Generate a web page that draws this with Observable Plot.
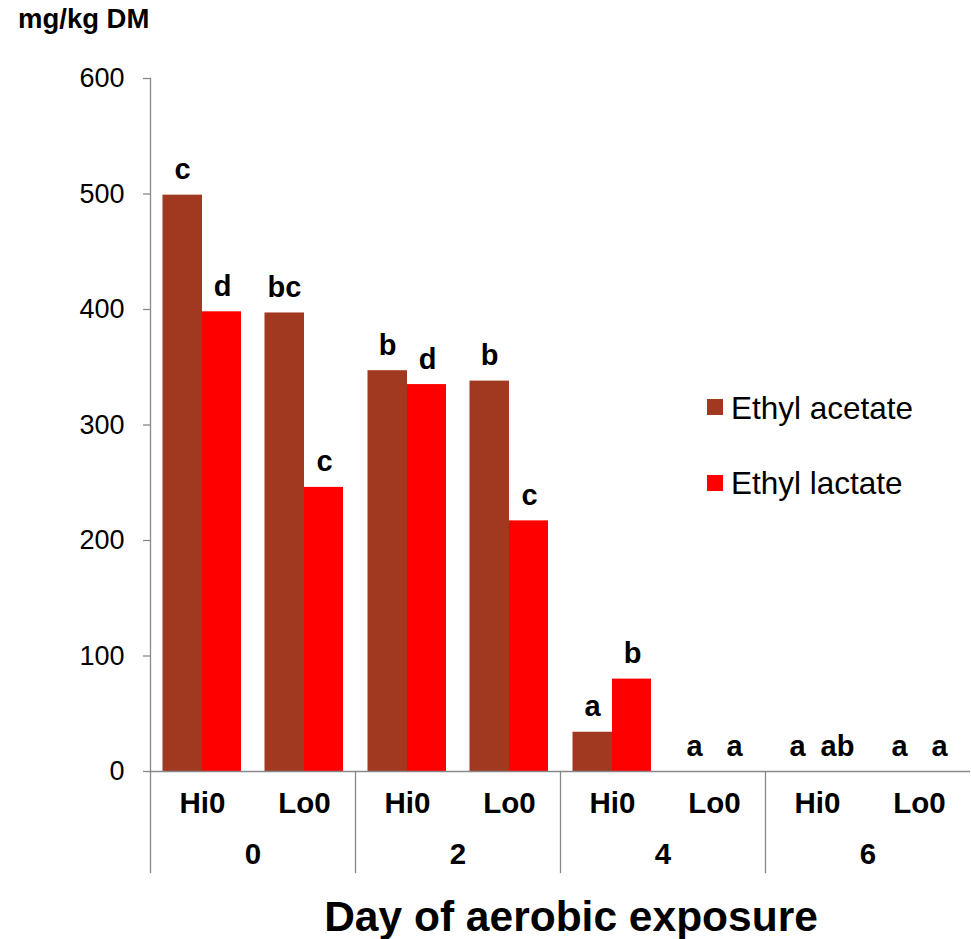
<!DOCTYPE html>
<html><head><meta charset="utf-8">
<script src="https://cdn.jsdelivr.net/npm/d3@7"></script>
<script src="https://cdn.jsdelivr.net/npm/@observablehq/plot@0.6"></script>
<style>
body{margin:0;background:#fff;font-family:"Liberation Sans",Arial,sans-serif;}
#wrap{position:relative;width:971px;height:939px;overflow:hidden;background:#fff}
.abs{position:absolute;white-space:nowrap;line-height:1;color:#000}
.sw{position:absolute;width:16px;height:16px}
</style></head><body><div id="wrap"></div>
<script>
// ---- data ----
const days = ["0", "2", "4", "6"];
const treatments = ["Hi0", "Lo0"];
const seriesNames = ["Ethyl acetate", "Ethyl lactate"];
const seriesColors = ["#A0391F", "#FF0000"];
// order: day0 Hi0, day0 Lo0, day2 Hi0, day2 Lo0, day4 Hi0, day4 Lo0, day6 Hi0, day6 Lo0
const acetate = [499, 397, 347, 338, 34, 0, 0, 0];
const lactate = [398, 246, 335, 217, 80, 0, 0, 0];
const acetateLetters = ["c", "bc", "b", "b", "a", "a", "a", "a"];
const lactateLetters = ["d", "c", "d", "c", "b", "a", "ab", "a"];
const yTicks = [0, 100, 200, 300, 400, 500, 600];
const yLabel = "mg/kg DM";
const xTitle = "Day of aerobic exposure";

// ---- table ----
const rows = [];
days.forEach((day, i) => treatments.forEach((treat, j) => {
  const k = i * 2 + j;
  rows.push({day, treat, series: seriesNames[0], value: acetate[k], letter: acetateLetters[k]});
  rows.push({day, treat, series: seriesNames[1], value: lactate[k], letter: lactateLetters[k]});
}));
const cells = days.flatMap(day => treatments.map(treat => ({day, treat})));
const ac = rows.filter(d => d.series === seriesNames[0]);
const la = rows.filter(d => d.series === seriesNames[1]);

const gray = "#898989";
const W = 971, H = 939, mt = 78, mb = 168, ml = 149, mr = 0;
const plotH = H - mt - mb;
const font = "'Liberation Sans', Arial, sans-serif";

const chart = Plot.plot({
  width: W, height: H,
  marginTop: mt, marginBottom: mb, marginLeft: ml, marginRight: mr,
  style: {fontFamily: font, fontSize: "27px", background: "white", color: "black", overflow: "visible"},
  fx: {domain: days, padding: 0, axis: null},
  x: {domain: treatments, padding: 0, axis: null},
  y: {domain: [0, 600], axis: null},
  color: {domain: seriesNames, range: seriesColors},
  marks: [
    Plot.barY(ac, {fx: "day", x: "treat", y: "value", fill: "series", insetLeft: 11.5, insetRight: 51}),
    Plot.barY(la, {fx: "day", x: "treat", y: "value", fill: "series", insetLeft: 51, insetRight: 12}),
    Plot.ruleY([0], {stroke: gray, strokeWidth: 1.3}),
    Plot.frame({anchor: "left", facetAnchor: "left", stroke: gray, strokeWidth: 1.3}),
    Plot.frame({anchor: "left", insetTop: plotH, insetBottom: -101, stroke: gray, strokeWidth: 1.3}),
    Plot.axisY({ticks: yTicks, tickSize: 7, tickPadding: 19, fontSize: 27, stroke: gray, strokeWidth: 1.3, label: null, tickFormat: d => String(d)}),
    Plot.text(ac, {fx: "day", x: "treat", y: "value", text: "letter", dx: -20, dy: -16, lineAnchor: "bottom", fontSize: 29, fontWeight: "bold", fill: "black"}),
    Plot.text(la, {fx: "day", x: "treat", y: "value", text: "letter", dx: 20, dy: -16, lineAnchor: "bottom", fontSize: 29, fontWeight: "bold", fill: "black"}),
    Plot.text(cells, {fx: "day", x: "treat", text: "treat", frameAnchor: "bottom", dy: 41, fontSize: 29.5, fontWeight: "bold", fill: "black"}),
    Plot.text(days, {fx: d => d, text: d => d, frameAnchor: "bottom", dy: 92, fontSize: 29.5, fontWeight: "bold", fill: "black"})
  ]
});

const wrap = document.getElementById("wrap");
wrap.appendChild(chart);

function addText(txt, css) {
  const d = document.createElement("div");
  d.className = "abs";
  d.textContent = txt;
  Object.assign(d.style, css);
  wrap.appendChild(d);
}
addText(yLabel, {left: "18px", top: "5px", fontSize: "27.5px", fontWeight: "bold"});
addText(xTitle, {left: "571px", top: "896px", fontSize: "42.5px", fontWeight: "bold", transform: "translateX(-50%)"});

// legend
const legendTops = [393, 468];
const swatchTops = [399, 475];
seriesNames.forEach((name, i) => {
  const s = document.createElement("div");
  s.className = "sw";
  s.style.left = "707px";
  s.style.top = swatchTops[i] + "px";
  s.style.background = seriesColors[i];
  wrap.appendChild(s);
  addText(name, {left: "731px", top: legendTops[i] + "px", fontSize: "31.5px"});
});
</script>
</body></html>
